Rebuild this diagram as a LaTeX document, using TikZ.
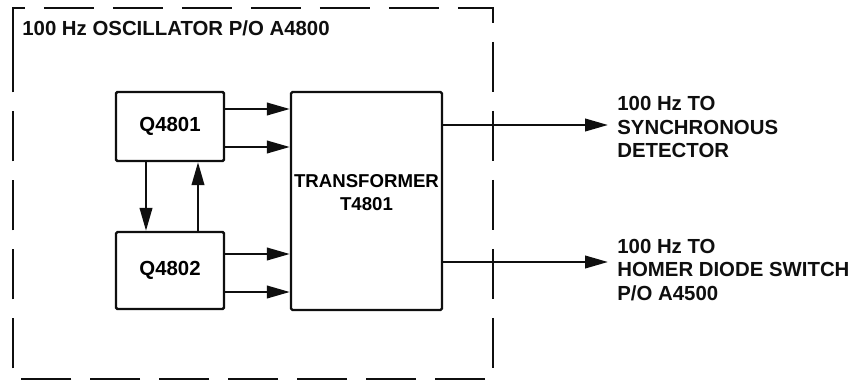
\documentclass[tikz,border=0pt]{standalone}
\usepackage{fontspec}
\setmainfont{Liberation Sans}
\usetikzlibrary{arrows.meta,positioning}
\definecolor{InkBlack}{RGB}{15,15,15}
\tikzset{
  block/.style={draw=InkBlack,line width=1.35pt,rounded corners=0.8pt,
    align=center,inner sep=0pt},
  sig/.style={-{Triangle[length=4.6mm,width=2.5mm]},line width=1.35pt,InkBlack},
  frame/.style={draw=InkBlack,line width=1.35pt,dash pattern=on 1cm off 0.38cm},
  lbl/.style={align=left,anchor=west,inner sep=0pt,text=InkBlack}
}
\begin{document}
\begin{tikzpicture}[x=0.02cm,y=-0.02cm,font=\fontsize{11.6}{13.2}\selectfont\bfseries]
  \useasboundingbox (0,0) rectangle (861,382);
  \draw[frame] (13,46) -- (13,8) -- (493,8) -- (493,379) -- (13,379) -- cycle;
  \node[lbl] (title) at (22,28) {100 Hz OSCILLATOR P/O A4800};
  \node[block,minimum width=2.16cm,minimum height=1.38cm] (q1) at (170,126.5) {Q4801};
  \node[block,minimum width=2.16cm,minimum height=1.54cm] (q2) at (170,270.5) {Q4802};
  \node[block,minimum width=3.02cm,minimum height=4.36cm,text depth=0.34cm,
    font=\fontsize{10.6}{13.2}\selectfont\bfseries] (trafo) at (366.5,201) {TRANSFORMER\\T4801};
  \draw[sig] (q1.east |- 0,109) -- (trafo.west |- 0,109);
  \draw[sig] (q1.east |- 0,147) -- (trafo.west |- 0,147);
  \draw[sig] (q2.east |- 0,254) -- (trafo.west |- 0,254);
  \draw[sig] (q2.east |- 0,292) -- (trafo.west |- 0,292);
  \draw[sig] (q1.south -| 146,0) -- (q2.north -| 146,0);
  \draw[sig] (q2.north -| 198,0) -- (q1.south -| 198,0);
  \coordinate (tip1) at (608,125);
  \coordinate (tip2) at (608,262);
  \draw[sig] (trafo.east |- tip1) -- (tip1);
  \draw[sig] (trafo.east |- tip2) -- (tip2);
  \node[lbl] (sync) at (617,127) {100 Hz TO\\SYNCHRONOUS\\DETECTOR};
  \node[lbl] (homer) at (617,270) {100 Hz TO\\HOMER DIODE SWITCH\\P/O A4500};
\end{tikzpicture}
\end{document}
